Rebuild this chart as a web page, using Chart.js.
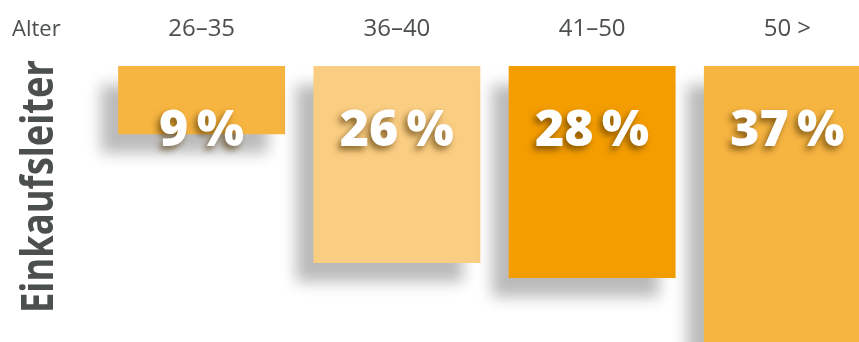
<!DOCTYPE html>
<html>
<head>
<meta charset="utf-8">
<script src="https://cdn.jsdelivr.net/npm/chart.js@4"></script>
<style>
  html, body { margin: 0; padding: 0; background: #fff; overflow: hidden; }
  #wrap { width: 900px; height: 380px; }
</style>
</head>
<body>
<div id="wrap"><canvas id="ageChart" width="900" height="380"></canvas></div>
<script>
// Altersverteilung Einkaufsleiter
const ageGroups = ["26–35", "36–40", "41–50", "50 >"];
const shares = [9, 26, 28, 37];
const barColors = ["#F6B440", "#F9CD82", "#F49D00", "#F6B440"];
const axisTitle = "Alter";
const rowTitle = "Einkaufsleiter";

const textGrey = "#4b4f4d";

// Schatten unter den Balken
const barShadow = {
    id: "barShadow",
    beforeDatasetsDraw(chart) {
        const ctx = chart.ctx;
        ctx.save();
        ctx.shadowColor = "rgba(0,0,0,0.27)";
        ctx.shadowBlur = 14;
        ctx.shadowOffsetX = -17;
        ctx.shadowOffsetY = 19;
    },
    afterDatasetsDraw(chart) {
        chart.ctx.restore();
    }
};

// Beschriftungen: Altersgruppen oben, Prozentwerte in den Balken, Zeilentitel links
const labels = {
    id: "labels",
    afterDraw(chart) {
        const ctx = chart.ctx;
        const x = chart.scales.x;
        const y = chart.scales.y;
        const meta = chart.getDatasetMeta(0);

        ctx.save();
        ctx.fillStyle = textGrey;
        ctx.font = "400 22px 'Open Sans'";
        ctx.textBaseline = "alphabetic";
        ctx.textAlign = "left";
        ctx.fillText(axisTitle, 12, 36);
        ctx.font = "400 24px 'Open Sans'";
        ctx.textAlign = "center";
        ageGroups.forEach((g, i) => {
            ctx.fillText(g, x.getPixelForValue(i), 36);
        });

        // Prozentwerte
        ctx.font = "800 50px 'Open Sans'";
        ctx.fillStyle = "#fff";
        ctx.shadowColor = "rgba(80,50,0,0.65)";
        ctx.shadowBlur = 6;
        ctx.shadowOffsetX = -3;
        ctx.shadowOffsetY = 4;
        meta.data.forEach((bar, i) => {
            ctx.fillText(shares[i] + "\u2009%", bar.x, y.getPixelForValue(0) + 80);
        });
        ctx.restore();

        // senkrechter Titel
        ctx.save();
        ctx.fillStyle = textGrey;
        ctx.font = "700 45px 'Open Sans'";
        ctx.translate(53, 313);
        ctx.rotate(-Math.PI / 2);
        const w = ctx.measureText(rowTitle).width;
        ctx.scale(253 / w, 1);
        ctx.textAlign = "left";
        ctx.textBaseline = "alphabetic";
        ctx.fillText(rowTitle, 0, 0);
        ctx.restore();
    }
};

new Chart(document.getElementById("ageChart"), {
    type: "bar",
    data: {
        labels: ageGroups,
        datasets: [{
            data: shares,
            backgroundColor: barColors,
            borderWidth: 0,
            categoryPercentage: 1,
            barPercentage: 0.855,
            clip: false
        }]
    },
    options: {
        responsive: false,
        animation: false,
        layout: { padding: { left: 104, right: 15, top: 66, bottom: 11 } },
        scales: {
            x: { display: false },
            y: { display: false, reverse: true, min: 0, max: 40 }
        },
        plugins: {
            legend: { display: false },
            tooltip: { enabled: false }
        }
    },
    plugins: [barShadow, labels]
});
</script>
</body>
</html>
